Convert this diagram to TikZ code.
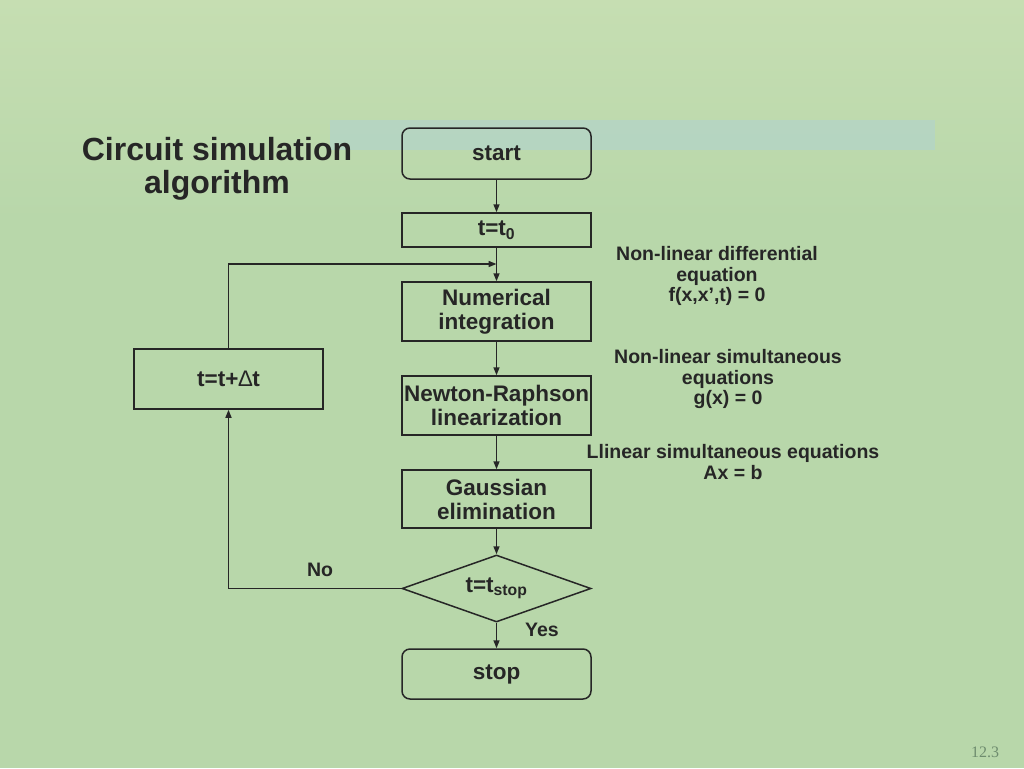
\documentclass[tikz,border=0pt]{standalone}
\usepackage{fontspec}
\setmainfont{Liberation Sans}
\setsansfont{Liberation Sans}
\newfontfamily\pgserif{Liberation Serif}
\usetikzlibrary{shapes.geometric,arrows.meta}
\definecolor{bg}{RGB}{184,215,170}
\definecolor{bgblue}{RGB}{176,210,210}
\definecolor{bgpale}{RGB}{198,222,178}
\definecolor{ink}{RGB}{38,38,38}
\definecolor{pgcol}{RGB}{110,140,110}
\tikzset{
  box/.style={draw=ink, line width=1.5pt, minimum width=189pt, inner sep=0pt,
    text=ink, font=\bfseries\fontsize{22.5}{24}\selectfont, align=center},
  rbox/.style={box, rounded corners=8pt},
  dia/.style={box, diamond, aspect=2.82, minimum width=189pt, minimum height=67pt},
  arr/.style={draw=ink, line width=1.5pt, -{Triangle[length=8pt,width=6pt]}},
  lab/.style={text=ink, font=\bfseries\fontsize{19.5}{20.7}\selectfont, align=center, inner sep=0pt},
  ttl/.style={text=ink, font=\bfseries\fontsize{32}{33.5}\selectfont, align=center, inner sep=0pt}
}
\begin{document}
\begin{tikzpicture}[x=1pt,y=-1pt]
\useasboundingbox (0,0) rectangle (1024,768);
\fill[bg] (0,0) rectangle (1024,768);
\shade[top color=bgpale, bottom color=bg] (0,0) rectangle (1024,220);
\fill[bgblue, opacity=0.55] (330,120) rectangle (935,150);
% title
\node[ttl] (title) at (217,169) {Circuit simulation\\algorithm};
% flowchart
\node[rbox, minimum height=51pt] (start) at (496.5,153.5) {start};
\node[box, minimum height=34pt] (t0) at (496.5,230) {t=t\textsubscript{0}};
\node[box, minimum height=59pt] (ni) at (496.5,311.5) {\strut Numerical\\integration};
\node[box, minimum height=59pt] (nr) at (496.5,405.5) {\strut Newton-Raphson\\linearization};
\node[box, minimum height=58pt] (ge) at (496.5,499) {\strut Gaussian\\elimination};
\node[dia] (dec) at (496.5,588.5) {t=t\textsubscript{stop}};
\node[rbox, minimum height=50pt] (stop) at (496.5,674) {stop};
\node[box, minimum height=60pt] (dt) at (228.5,379) {t=t+{\mdseries∆}t};
\coordinate (join) at (496.5,264);
\draw[arr] (start) -- (t0);
\draw[arr] (t0) -- (ni);
\draw[arr] (ni) -- (nr);
\draw[arr] (nr) -- (ge);
\draw[arr] (ge) -- (dec);
\draw[arr] (dec) -- (stop);
\draw[arr] (dec.west) -| (dt.south);
\draw[arr] (dt.north) |- (join);
% branch labels
\node[lab] (no) at (320,570) {No};
\node[lab] (yes) at (542,630) {Yes};
% side notes
\node[lab] (n1) at (717,276) {Non-linear differential\\equation\\f(x,x’,t) = 0};
\node[lab] (n2) at (728,379) {Non-linear simultaneous\\equations\\g(x) = 0};
\node[lab] (n3) at (733,462) {Llinear simultaneous equations\\Ax = b};
% page number
\node[text=pgcol, font=\pgserif\fontsize{16}{16}\selectfont, inner sep=0pt] (pg) at (985,752) {12.3};
\end{tikzpicture}
\end{document}
